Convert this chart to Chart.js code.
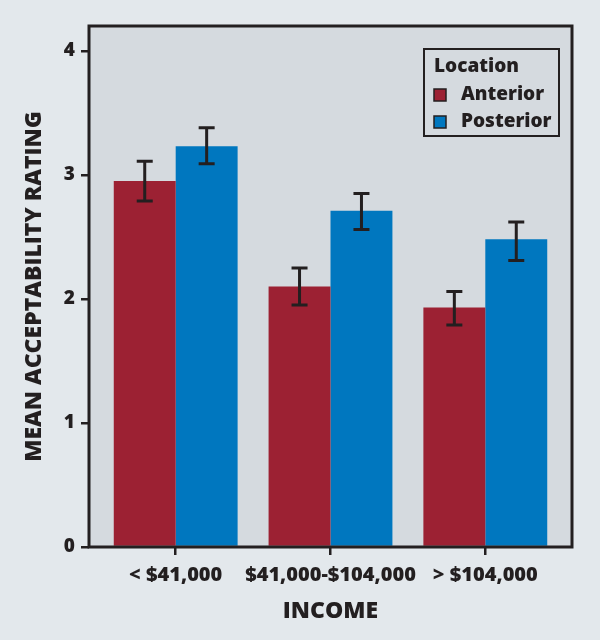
<!DOCTYPE html>
<html>
<head>
<meta charset="utf-8">
<script src="https://cdn.jsdelivr.net/npm/chart.js@4.4.1/dist/chart.umd.min.js"></script>
<style>
  html, body { margin: 0; padding: 0; background: #e3e8ec; }
  #wrap { width: 600px; height: 640px; }
</style>
</head>
<body>
<div id="wrap"><canvas id="myChart" width="600" height="640"></canvas></div>
<script>
// data
const incomeLabels = ['< $41,000', '$41,000-$104,000', '> $104,000'];
const groupPos = [0, 1, 2];

const anteriorMean = [2.95, 2.10, 1.93];
const anteriorLow  = [2.79, 1.95, 1.79];
const anteriorHigh = [3.11, 2.25, 2.06];

const posteriorMean = [3.23, 2.71, 2.48];
const posteriorLow  = [3.09, 2.56, 2.31];
const posteriorHigh = [3.38, 2.85, 2.62];

const yTicks = [0, 1, 2, 3, 4];

const ink = '#231f20';
const fontName = '"Open Sans", Lato, sans-serif';
const heavy = 800;

// plot background, frame, error bars and the boxed legend
const extras = {
  id: 'extras',
  beforeDraw(chart) {
    const {ctx, chartArea: a} = chart;
    ctx.save();
    ctx.fillStyle = '#d5dadf';
    ctx.fillRect(a.left, a.top, a.right - a.left, a.bottom - a.top);
    ctx.restore();
  },
  afterDatasetsDraw(chart) {
    const {ctx} = chart;
    const y = chart.scales.y;
    ctx.save();
    ctx.strokeStyle = ink;
    ctx.lineWidth = 3;
    chart.data.datasets.forEach((ds, i) => {
      const meta = chart.getDatasetMeta(i);
      meta.data.forEach((bar, j) => {
        const top = y.getPixelForValue(ds.errHigh[j]);
        const bot = y.getPixelForValue(ds.errLow[j]);
        ctx.beginPath();
        ctx.moveTo(bar.x, top);
        ctx.lineTo(bar.x, bot);
        ctx.moveTo(bar.x - 8, top);
        ctx.lineTo(bar.x + 8, top);
        ctx.moveTo(bar.x - 8, bot);
        ctx.lineTo(bar.x + 8, bot);
        ctx.stroke();
      });
    });
    ctx.restore();
  },
  afterDraw(chart) {
    const {ctx, chartArea: a} = chart;
    ctx.save();
    // frame
    ctx.strokeStyle = ink;
    ctx.lineWidth = 3;
    ctx.strokeRect(a.left, a.top, a.right - a.left, a.bottom - a.top);

    // legend
    const bw = 135, bh = 87;
    const bx = a.right - 13 - bw, by = a.top + 23;
    ctx.lineWidth = 2;
    ctx.strokeRect(bx, by, bw, bh);
    ctx.fillStyle = ink;
    ctx.textBaseline = 'middle';
    ctx.textAlign = 'left';
    ctx.font = heavy + ' 19px ' + fontName;
    ctx.fillText('Location', bx + 10, by + 18);
    chart.data.datasets.forEach((ds, i) => {
      const cy = by + 46 + i * 27;
      ctx.fillStyle = ds.backgroundColor;
      ctx.fillRect(bx + 10, cy - 6, 12, 12);
      ctx.lineWidth = 1.5;
      ctx.strokeRect(bx + 10, cy - 6, 12, 12);
      ctx.fillStyle = ink;
      ctx.fillText(ds.label, bx + 37, cy);
    });
    ctx.restore();
  }
};

const ctx = document.getElementById('myChart').getContext('2d');

const myChart = new Chart(ctx, {
  type: 'bar',
  data: {
    datasets: [{
      label: 'Anterior',
      data: groupPos.map((x, i) => ({x: x, y: anteriorMean[i]})),
      errLow: anteriorLow,
      errHigh: anteriorHigh,
      backgroundColor: '#9c2133'
    }, {
      label: 'Posterior',
      data: groupPos.map((x, i) => ({x: x, y: posteriorMean[i]})),
      errLow: posteriorLow,
      errHigh: posteriorHigh,
      backgroundColor: '#0077bf'
    }]
  },
  options: {
    responsive: false,
    animation: false,
    categoryPercentage: 0.8,
    barPercentage: 1.0,
    layout: { padding: { top: 26, right: 28, left: 0, bottom: 0 } },
    plugins: {
      legend: { display: false },
      tooltip: { enabled: false }
    },
    scales: {
      x: {
        type: 'linear',
        offset: false,
        min: -0.56,
        max: 2.56,
        afterBuildTicks(scale) { scale.ticks = groupPos.map(v => ({value: v})); },
        afterFit(scale) { scale.height = 93; },
        ticks: {
          callback: (v) => incomeLabels[v],
          color: ink,
          font: { family: fontName, size: 20, weight: heavy },
          padding: 8,
          autoSkip: false,
          maxRotation: 0
        },
        grid: { offset: false, drawOnChartArea: false, drawTicks: true, tickLength: 8, color: ink, lineWidth: 2.5 },
        border: { display: false },
        title: {
          display: true,
          text: 'INCOME',
          color: ink,
          font: { family: fontName, size: 23, weight: heavy },
          padding: { top: 0, bottom: 15 }
        }
      },
      y: {
        min: 0,
        max: 4.2,
        afterBuildTicks(scale) { scale.ticks = yTicks.map(v => ({value: v})); },
        afterFit(scale) { scale.width = 89; },
        ticks: {
          color: ink,
          font: { family: fontName, size: 19, weight: heavy },
          padding: 6
        },
        grid: { drawOnChartArea: false, drawTicks: true, tickLength: 8, color: ink, lineWidth: 2.5 },
        border: { display: false },
        title: {
          display: true,
          text: 'MEAN ACCEPTABILITY RATING',
          color: ink,
          font: { family: fontName, size: 23, weight: heavy },
          padding: { top: 21, bottom: 0 }
        }
      }
    }
  },
  plugins: [extras]
});
</script>
</body>
</html>
